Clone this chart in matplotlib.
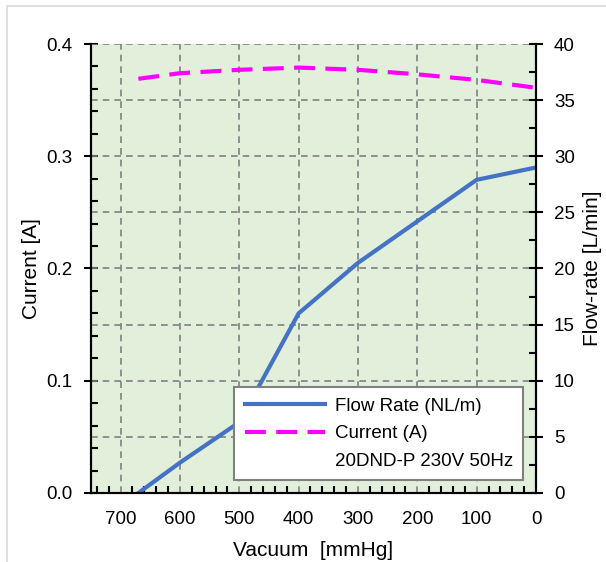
import matplotlib
matplotlib.use("Agg")
import matplotlib.pyplot as plt
from matplotlib.lines import Line2D
from matplotlib.patches import Rectangle
from matplotlib.ticker import MultipleLocator, FormatStrFormatter

# values
vacuum = [670, 600, 500, 400, 300, 200, 100, 0]
flow_rate = [0.0, 2.7, 6.3, 16.0, 20.5, 24.2, 27.9, 29.0]
current = [0.369, 0.374, 0.377, 0.379, 0.377, 0.373, 0.368, 0.361]
note = "20DND-P 230V 50Hz"

plt.rcParams["font.family"] = ["Liberation Sans", "DejaVu Sans"]
plt.rcParams["font.size"] = 13.5

fig = plt.figure(figsize=(6.06, 5.62), dpi=100)
fig.patches.append(Rectangle((0.011, -0.01), 1.0, 1.0, transform=fig.transFigure,
                             fill=False, edgecolor="#d9d9d9", linewidth=1.2))

ax = fig.add_axes([0.150, 0.1228, 0.7345, 0.7989])
ax2 = ax.twinx()

ax.set_facecolor("#e2efda")
ax.set_xlim(750, 0)
ax.set_ylim(0, 0.4)
ax2.set_ylim(0, 40)

grid_kw = dict(color="#808080", linestyle=(0, (4, 3)), linewidth=1.2)
ax.xaxis.set_major_locator(MultipleLocator(100))
ax.xaxis.set_minor_locator(MultipleLocator(20))
ax.grid(axis="x", which="major", **grid_kw)
ax.set_axisbelow(True)

ax.yaxis.set_major_locator(MultipleLocator(0.1))
ax.yaxis.set_minor_locator(MultipleLocator(0.02))
ax.yaxis.set_major_formatter(FormatStrFormatter("%.1f"))
ax2.yaxis.set_major_locator(MultipleLocator(5))
ax2.yaxis.set_minor_locator(MultipleLocator(2.5))
ax2.grid(axis="y", which="major", **grid_kw)

for a in (ax, ax2):
    a.spines["top"].set_visible(False)
    for s in a.spines.values():
        s.set_linewidth(1.5)

ax.tick_params(axis="y", which="major", direction="inout", length=10, width=1.5, pad=8)
ax.tick_params(axis="y", which="minor", direction="in", length=5, width=1.5)
ax.tick_params(axis="x", which="major", direction="in", length=0, width=1.5, pad=13)
ax.tick_params(axis="x", which="minor", direction="in", length=5, width=1.5)
ax2.tick_params(axis="y", which="major", direction="inout", length=10, width=1.5, pad=8)
ax2.tick_params(axis="y", which="minor", direction="in", length=5, width=1.5)

cur_line, = ax.plot(vacuum, current, color="#ff00ff", linewidth=3,
                    linestyle=(0, (5, 2.5)), label="Current (A)")
flow_line, = ax2.plot(vacuum, flow_rate, color="#4472c4", linewidth=3,
                      label="Flow Rate (NL/m)")

ax.set_xlabel("Vacuum  [mmHg]", fontsize=15, labelpad=9)
ax.set_ylabel("Current [A]", fontsize=15, labelpad=4)
ax2.set_ylabel("Flow-rate [L/min]", fontsize=15, labelpad=6)

blank = Line2D([], [], linestyle="none", label=note)
leg = ax2.legend(handles=[flow_line, cur_line, blank], loc="lower right",
                 bbox_to_anchor=(0.971, 0.029), frameon=True, fancybox=False,
                 edgecolor="#808080", framealpha=1, handlelength=4.3,
                 borderpad=0.55, labelspacing=0.55, handletextpad=0.5,
                 fontsize=13.5, borderaxespad=0)
leg.get_frame().set_linewidth(1.5)

fig.savefig("out.png", dpi=100)
